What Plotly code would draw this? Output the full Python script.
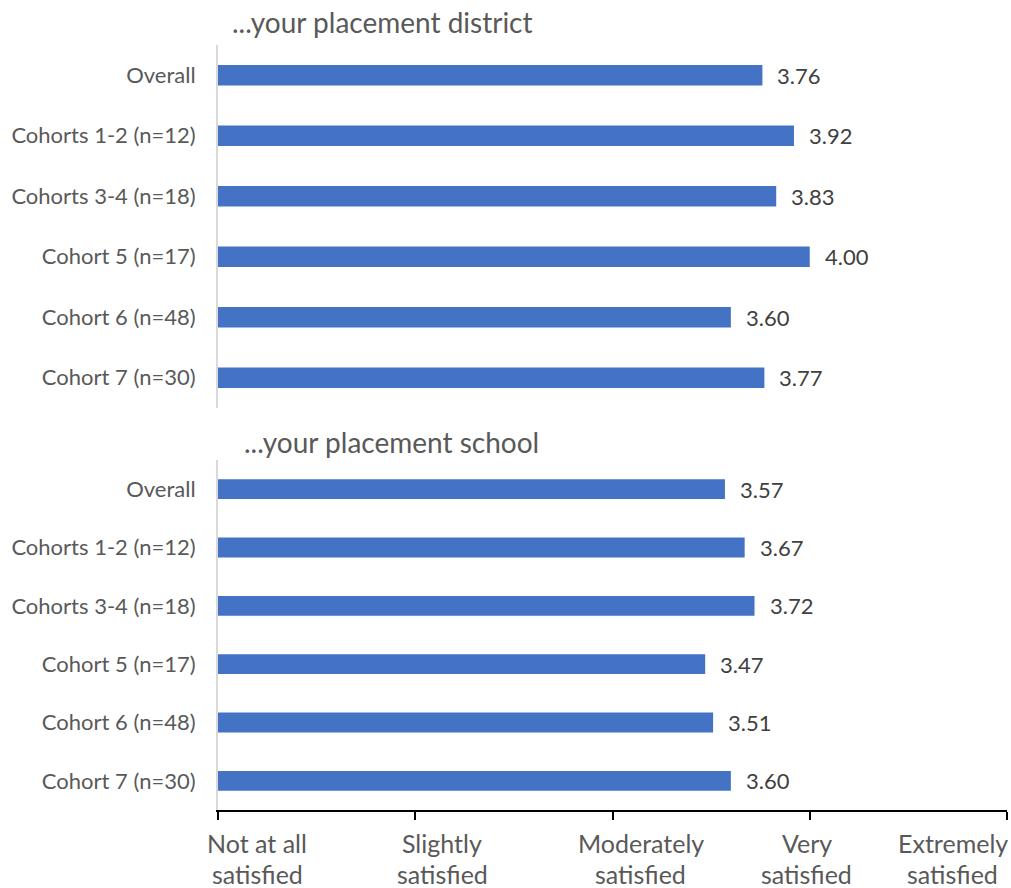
import plotly.graph_objects as go
from plotly.subplots import make_subplots

# Survey groups (top to bottom)
groups = ["Overall", "Cohorts 1-2 (n=12)", "Cohorts 3-4 (n=18)",
          "Cohort 5 (n=17)", "Cohort 6 (n=48)", "Cohort 7 (n=30)"]

# Mean satisfaction (1 = Not at all ... 5 = Extremely)
district_scores = [3.76, 3.92, 3.83, 4.00, 3.60, 3.77]
school_scores = [3.57, 3.67, 3.72, 3.47, 3.51, 3.60]

panel_titles = ["...your placement district", "...your placement school"]

scale_values = [1, 2, 3, 4, 5]
scale_line1 = ["Not at all", "Slightly", "Moderately", "Very", "Extremely"]
scale_line2 = ["satisfied", "satisfied", "satisfied", "satisfied", "satisfied"]
# horizontal centres of the scale captions on the value axis
scale_label_x = [1.198, 2.136, 3.144, 3.986, 4.726]

FONT = "Lato"
BAR = "#4472C4"
GREY_TXT = "#595959"
VAL_TXT = "#404040"

fig = make_subplots(rows=2, cols=1, shared_xaxes=True)

for row, scores in ((1, district_scores), (2, school_scores)):
    # bars run from 0; the value axis starts at 1 so they appear from the scale origin
    fig.add_trace(go.Bar(
        x=scores, y=groups, orientation="h",
        marker=dict(color=BAR, line=dict(width=0)),
        width=0.34, hoverinfo="skip", showlegend=False,
    ), row=row, col=1)
    xref = "x" if row == 1 else "x2"
    yref = "y" if row == 1 else "y2"
    for g, v in zip(groups, scores):
        fig.add_annotation(
            x=v, y=g, xref=xref, yref=yref, text=f"{v:.2f}",
            showarrow=False, xanchor="left", yanchor="middle", xshift=13,
            font=dict(family=FONT, size=22, color=VAL_TXT),
        )

# axis geometry (paper fractions)
top_domain = [0.5255, 1.0]
bot_domain = [0.0, 0.4575]

common_y = dict(
    type="category", autorange="reversed", showline=True,
    linecolor="#D9D9D9", linewidth=2, ticks="", showgrid=False,
    zeroline=False, ticklabelstandoff=16,
    tickfont=dict(family=FONT, size=22, color=GREY_TXT),
)

fig.update_layout(
    width=1011, height=888,
    margin=dict(l=218, r=4, t=45, b=78),
    paper_bgcolor="white", plot_bgcolor="white",
    xaxis=dict(range=[1, 5], showgrid=False, zeroline=False, showline=False,
               showticklabels=False, ticks="", matches="x2"),
    xaxis2=dict(range=[1, 5], tickvals=scale_values, showgrid=False,
                zeroline=False, showline=True, linecolor="#000000",
                linewidth=1.5, ticks="outside", ticklen=8, tickwidth=1.5,
                tickcolor="#000000", showticklabels=False),
    yaxis=dict(domain=top_domain, **common_y),
    yaxis2=dict(domain=bot_domain, **common_y),
)

# panel headings
for title, xc, yc in ((panel_titles[0], 0.208, 1.030), (panel_titles[1], 0.2205, 0.481)):
    fig.add_annotation(
        text=title, xref="paper", yref="paper", x=xc, y=yc,
        xanchor="center", yanchor="middle", showarrow=False,
        font=dict(family=FONT, size=28, color=GREY_TXT),
    )

# two-line scale captions under the value axis
for xv, l1, l2 in zip(scale_label_x, scale_line1, scale_line2):
    for txt, yp in ((l1, -0.0431), (l2, -0.0837)):
        fig.add_annotation(
            text=txt, x=xv, xref="x2", yref="paper", y=yp,
            xanchor="center", yanchor="middle", showarrow=False,
            font=dict(family=FONT, size=25, color=GREY_TXT),
        )

fig.write_html("out.html")
